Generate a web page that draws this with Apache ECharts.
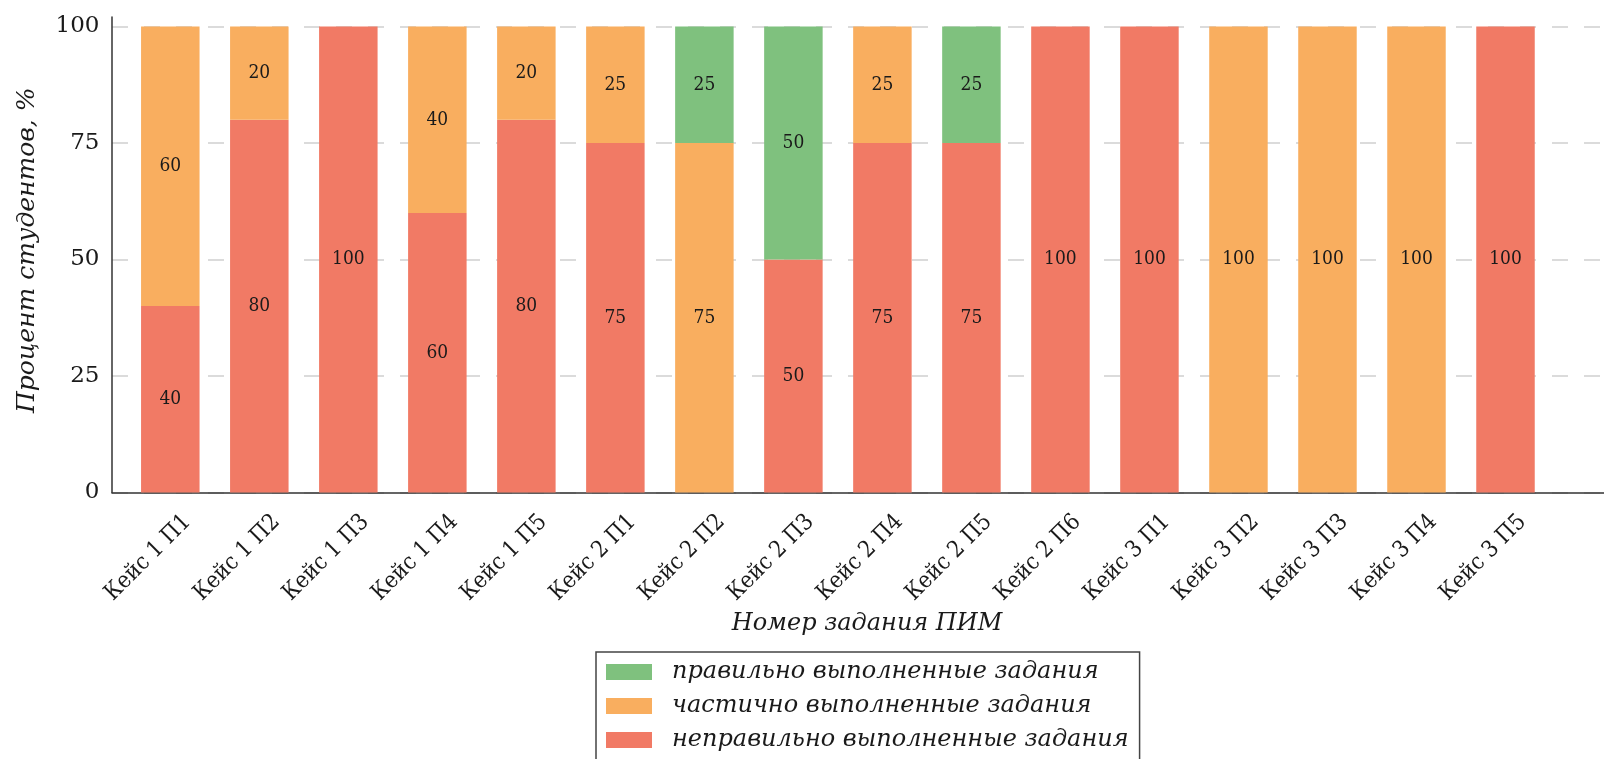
<!DOCTYPE html>
<html><head><meta charset="utf-8">
<script src="https://cdn.jsdelivr.net/npm/echarts@6/dist/echarts.min.js"></script>
<style>html,body{margin:0;padding:0;background:#fff}#c{width:1604px;height:759px}</style>
</head><body><div id="c"></div>
<script>
const categories = ['Кейс 1 П1','Кейс 1 П2','Кейс 1 П3','Кейс 1 П4','Кейс 1 П5',
  'Кейс 2 П1','Кейс 2 П2','Кейс 2 П3','Кейс 2 П4','Кейс 2 П5','Кейс 2 П6',
  'Кейс 3 П1','Кейс 3 П2','Кейс 3 П3','Кейс 3 П4','Кейс 3 П5'];
const incorrect = [40,80,100,60,80,75,0,50,75,75,100,100,0,0,0,100];
const partial   = [60,20,0,40,20,25,75,0,25,0,0,0,100,100,100,0];
const correct   = [0,0,0,0,0,0,25,50,0,25,0,0,0,0,0,0];
const yTicks = [0,25,50,75,100];
const names = ['правильно выполненные задания','частично выполненные задания','неправильно выполненные задания'];
const xTitle = 'Номер задания ПИМ';
const yTitle = 'Процент студентов, %';

const SERIF = "'DejaVu Serif', serif";
const COND = "'DejaVu Serif Condensed', 'DejaVu Serif', serif";
const colors = {correct:'#7FC17E', partial:'#F9AE5F', incorrect:'#F17A65'};

const chart = echarts.init(document.getElementById('c'), null, {renderer:'canvas'});
const barLabel = {show:true, position:'inside', color:'#1a1a1a', fontFamily:COND, fontSize:19,
  formatter: p => p.value ? String(p.value) : ''};
function bar(name, data, color){
  return {name, type:'bar', stack:'s', xAxisIndex:1, yAxisIndex:1, data, barWidth:58.5,
    itemStyle:{color}, label:barLabel, emphasis:{disabled:true}};
}
const TOP = 26.5, BOTTOM = 266.5;
chart.setOption({
  animation:false,
  backgroundColor:'#fff',
  grid:[
    {left:112, right:0, top:17, bottom:BOTTOM},
    {left:125.8, right:54, top:TOP, bottom:BOTTOM},
    {left:112, right:0, top:TOP, bottom:BOTTOM}
  ],
  xAxis:[
    {gridIndex:0, type:'value', min:0, max:1, axisLine:{show:true, onZero:false, lineStyle:{color:'#333', width:1.5}},
     axisTick:{show:false}, axisLabel:{show:false}, splitLine:{show:false},
     name:xTitle, nameLocation:'middle', nameGap:119,
     nameTextStyle:{fontFamily:SERIF, fontStyle:'italic', fontSize:24, color:'#1a1a1a', padding:[0,0,0,18]}},
    {gridIndex:1, type:'category', data:categories, axisLine:{show:false}, axisTick:{show:false},
     axisLabel:{rotate:45, margin:9, verticalAlign:'top', lineHeight:48, fontFamily:COND, fontSize:23, color:'#1a1a1a', interval:0}},
    {gridIndex:2, type:'value', min:0, max:1, show:false}
  ],
  yAxis:[
    {gridIndex:0, type:'value', min:0, max:102,
     axisLine:{show:true, lineStyle:{color:'#333', width:1.5}}, axisTick:{show:false},
     axisLabel:{show:false}, splitLine:{show:false},
     name:yTitle, nameLocation:'middle', nameGap:72, nameRotate:90,
     nameTextStyle:{fontFamily:SERIF, fontStyle:'italic', fontSize:25, color:'#1a1a1a', padding:[0,0,0,9]}},
    {gridIndex:1, type:'value', min:0, max:100, show:false},
    {gridIndex:2, type:'value', min:yTicks[0], max:yTicks[yTicks.length-1], interval:25,
     axisLine:{show:false}, axisTick:{show:false},
     axisLabel:{margin:12.5, fontFamily:SERIF, fontSize:23, color:'#1a1a1a'},
     splitLine:{show:true, lineStyle:{color:'#cfcfcf', width:1.5, type:[16,16]}}}
  ],
  legend:{
    data:names, orient:'vertical', left:596, top:652, height:120, itemWidth:46, itemHeight:16, itemGap:10,
    padding:[8,11,8,10], borderColor:'#444', borderWidth:1.5, borderRadius:0,
    icon:'rect', textStyle:{fontFamily:SERIF, fontStyle:'italic', fontSize:24, color:'#1a1a1a', padding:[0,0,0,15]},
    selectedMode:false
  },
  series:[
    bar(names[2], incorrect, colors.incorrect),
    bar(names[1], partial, colors.partial),
    bar(names[0], correct, colors.correct)
  ]
});
</script></body></html>
